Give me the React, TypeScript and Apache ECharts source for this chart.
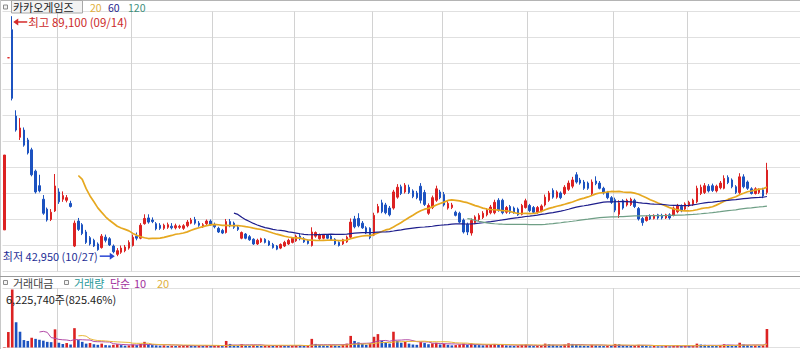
import { useEffect, useRef } from "react";
import * as echarts from "echarts";

// Trading days (month -> days)
const tradingMonths: { ym: string; days: number[] }[] = [
  { ym: "2020-09", days: [10, 11, 14, 15, 16, 17, 18, 21, 22, 23, 24, 25, 28, 29] },
  { ym: "2020-10", days: [5, 6, 7, 8, 12, 13, 14, 15, 16, 19, 20, 21, 22, 23, 26, 27, 28, 29, 30] },
  { ym: "2020-11", days: [2, 3, 4, 5, 6, 9, 10, 11, 12, 13, 16, 17, 18, 19, 20, 23, 24, 25, 26, 27, 30] },
  { ym: "2020-12", days: [1, 2, 3, 4, 7, 8, 9, 10, 11, 14, 15, 16, 17, 18, 21, 22, 23, 24, 28, 29, 30] },
  { ym: "2021-01", days: [4, 5, 6, 7, 8, 11, 12, 13, 14, 15, 18, 19, 20, 21, 22, 25, 26, 27, 28, 29] },
  { ym: "2021-02", days: [1, 2, 3, 4, 5, 8, 9, 10, 15, 16, 17, 18, 19, 22, 23, 24, 25, 26] },
  { ym: "2021-03", days: [2, 3, 4, 5, 8, 9, 10, 11, 12, 15, 16, 17, 18, 19, 22, 23, 24, 25, 26, 29, 30, 31] },
  { ym: "2021-04", days: [1, 2, 5, 6, 7, 8, 9, 12, 13, 14, 15, 16, 19, 20, 21, 22, 23, 26, 27, 28, 29, 30] },
  { ym: "2021-05", days: [3, 4, 6, 7, 10, 11, 12, 13, 14, 17, 18, 20, 21, 24, 25, 26, 27, 28, 31] },
  { ym: "2021-06", days: [1, 2, 3, 4, 7, 8, 9, 10, 11, 14, 15, 16, 17, 18, 21, 22, 23, 24, 25, 28, 29] },
];

const opens = [
  48000, 81100, 86500, 69900, 65800, 67200, 65300, 63400, 59300, 56500, 53900, 52000, 50000, 51650,
  55300, 53900, 53700, 53100, 44900, 49700, 49000, 47600, 46500, 46000, 45300, 44600, 46600, 46300, 44900, 43300, 43700, 44000, 44500,
  45000, 46800, 46400, 49200, 50300, 49900, 49200, 48900, 48300, 48500, 48700, 48400, 48500, 48300, 48800, 49300, 50000, 49300, 48600, 49200, 49700,
  49000, 48300, 47900, 47500, 49600, 49300, 48500, 46400, 47200, 46700, 46200, 45300, 45700, 46200, 45800, 45200, 44900, 44500, 44900, 45300, 45600,
  45900, 46800, 46300, 45900, 45000, 46800, 46300, 46400, 47000, 46800, 46200, 45600, 45300, 45700, 46600, 50100, 50200, 49300, 48400, 48300,
  47000, 51400, 53200, 52800, 52200, 52200, 54300, 56300, 55300, 56200, 55500, 55100, 56400, 55200, 51200, 52300, 53700, 55300,
  54800, 52200, 52300, 51400, 51200, 49900, 49100, 47400, 49400, 50000, 50400, 50900, 51300, 51300, 53700, 53700, 51400, 52500, 52200, 52000, 51000, 52300,
  52700, 52300, 51400, 51700, 52800, 53700, 55600, 54300, 55100, 55000, 55800, 56400, 58600, 57600, 57200, 57000, 55000, 57400, 57000, 56000, 55200, 54200,
  53800, 51000, 53600, 52800, 52900, 53700, 52100, 50200, 49800, 50700, 50200, 50900, 50800, 50300, 50900, 50800, 51500, 52500, 52000,
  52600, 52900, 53400, 55000, 55200, 56400, 56500, 55500, 56100, 56000, 58100, 57600, 56300, 55200, 58200, 57200, 55900, 55000, 55200, 55700, 55200,
];

const highs = [
  62400, 81100, 89100, 71000, 69500, 67700, 65700, 63800, 59600, 58600, 54700, 52300, 52000, 58750,
  56000, 55400, 54700, 53600, 49800, 50300, 49300, 48000, 46800, 46300, 45600, 47200, 47100, 46600, 45200, 44500, 45000, 45100, 46000,
  47100, 47500, 49300, 51000, 51000, 50400, 49500, 49300, 49200, 49400, 49300, 49200, 49000, 49100, 49900, 50300, 50500, 49700, 49300, 50000, 50000,
  49400, 48600, 48200, 50100, 50100, 49600, 48800, 47700, 47400, 47000, 46400, 46300, 46500, 46400, 46000, 45500, 45100, 45400, 45900, 46300, 46600,
  47100, 47200, 46600, 46100, 48500, 47700, 47300, 47200, 47200, 47000, 46400, 45800, 46300, 46900, 50200, 50700, 51200, 49700, 48700, 48500,
  51300, 53000, 53800, 53200, 52600, 55700, 56800, 56700, 57000, 56700, 55800, 55500, 57000, 55700, 53100, 54600, 56500, 55700,
  55300, 53500, 53200, 51700, 51500, 50200, 49400, 50200, 50800, 51200, 51600, 52200, 52800, 53800, 54100, 54000, 52600, 52800, 52500, 52300, 53000, 54000,
  53000, 52600, 52600, 52900, 54800, 55500, 56000, 55600, 55400, 56600, 57500, 58200, 59100, 58000, 57600, 57300, 57700, 58300, 57400, 56300, 55500, 54500,
  54200, 53700, 53900, 54000, 54200, 54000, 52400, 50500, 50800, 51000, 51000, 51100, 51100, 51100, 51200, 52500, 53000, 52900, 53300,
  53600, 54000, 56500, 56700, 57000, 56800, 56900, 56700, 57400, 58500, 58500, 57900, 56600, 58900, 58700, 57500, 56200, 56200, 56000, 56100, 60900,
];

const lows = [
  48000, 81100, 72900, 66900, 65300, 64000, 62500, 58300, 55000, 55200, 50900, 49600, 49700, 51450,
  53000, 53400, 53300, 52300, 44700, 47800, 47000, 45300, 45000, 44700, 44000, 44400, 45600, 44900, 43500, 42950, 43400, 43700, 44200,
  44800, 46000, 46200, 49000, 49200, 49300, 47900, 48000, 48000, 48200, 48100, 48100, 48200, 48000, 48500, 49100, 49000, 48600, 48400, 48900, 48800,
  48300, 47400, 47200, 47300, 48500, 48200, 47800, 46200, 46200, 45900, 45100, 45100, 45500, 45400, 44900, 44400, 44100, 44300, 44700, 45100, 45400,
  45700, 46000, 45500, 45200, 44800, 46500, 46100, 46200, 46200, 45900, 45100, 44800, 45100, 45500, 46300, 48300, 48500, 48200, 47200, 46200,
  46800, 51200, 51200, 51000, 50600, 51900, 54000, 54700, 55000, 54900, 54100, 53900, 53100, 52600, 50900, 52000, 53400, 53900,
  52500, 51900, 52000, 50600, 49300, 47300, 47000, 46900, 49100, 49700, 50100, 50600, 51000, 51000, 51500, 51000, 51100, 51100, 51100, 50700, 50800, 52100,
  51400, 51200, 51100, 51400, 52500, 53400, 54000, 54000, 53900, 54700, 55500, 56000, 56900, 56700, 55700, 55700, 54700, 56600, 55800, 54800, 53900, 53000,
  51400, 50300, 51900, 52500, 52600, 52200, 49800, 48800, 49600, 49900, 50000, 50000, 50000, 50100, 50000, 50600, 51200, 51400, 51800,
  52400, 52600, 53100, 54700, 54900, 55200, 55300, 55200, 55800, 55800, 56800, 56000, 54900, 54900, 56000, 55700, 54800, 54800, 54900, 54100, 54800,
];

const closes = [
  62400, 81100, 73300, 67200, 67600, 64300, 62800, 58600, 55300, 55500, 51200, 49900, 51400, 56450,
  53400, 54600, 54200, 52500, 49300, 48100, 47300, 45600, 45300, 44900, 44200, 46800, 46000, 45100, 43800, 44000, 44500, 44700, 45600,
  46600, 46400, 48900, 50200, 49500, 49600, 48200, 48300, 48900, 49000, 48400, 48800, 48700, 48800, 49500, 49900, 49300, 48900, 49000, 49700, 49000,
  48600, 47600, 47400, 49600, 48800, 48500, 48100, 47500, 46400, 46100, 45300, 46000, 46300, 45600, 45100, 44600, 44300, 45200, 45600, 46000, 46400,
  46800, 46300, 45700, 45400, 47600, 47500, 47000, 47000, 46400, 46100, 45300, 45000, 46100, 46600, 49500, 48600, 48800, 48400, 47400, 46500,
  50800, 52500, 51500, 51300, 50900, 55300, 56200, 55000, 56600, 55200, 54400, 54200, 53700, 52900, 52700, 54200, 55900, 54200,
  52800, 53100, 52800, 50800, 49500, 47600, 47600, 49800, 50500, 50800, 51200, 51800, 52400, 53300, 51800, 51300, 52300, 51400, 51400, 50900, 52700, 53600,
  51700, 51400, 52300, 52600, 54300, 55100, 54300, 55300, 54200, 56200, 57000, 57600, 57200, 57000, 56000, 56000, 57200, 56900, 56000, 55100, 54200, 53300,
  51800, 53200, 52200, 53700, 53900, 52500, 50100, 49400, 50500, 50100, 50800, 50300, 50300, 50900, 50300, 52200, 52600, 51700, 53000,
  53300, 53700, 56000, 56200, 56500, 55500, 55600, 56400, 57000, 57900, 57100, 56300, 55200, 58200, 56300, 56000, 55000, 55900, 55700, 54500, 59500,
];

const volumes = [
  150000, 5200000, 19500000, 8500000, 5300000, 2500000, 2200000, 3300000, 2900000, 2600000, 2300000, 1900000, 1800000, 6100000,
  1600000, 1200000, 1500000, 1000000, 6500000, 2500000, 1900000, 1300000, 1500000, 1100000, 900000, 1300000, 800000, 700000, 900000, 1100000, 800000, 600000, 700000,
  1000000, 800000, 1200000, 1900000, 1000000, 800000, 700000, 600000, 700000, 500000, 600000, 500000, 600000, 700000, 800000, 600000, 500000, 600000, 500000, 700000, 500000,
  600000, 700000, 500000, 2200000, 1200000, 800000, 600000, 1100000, 700000, 600000, 800000, 600000, 500000, 600000, 700000, 500000, 600000, 700000, 600000, 500000, 700000,
  800000, 600000, 500000, 600000, 2900000, 1200000, 900000, 700000, 600000, 800000, 700000, 500000, 900000, 1300000, 3900000, 2200000, 1700000, 1200000, 900000, 1500000,
  3600000, 4500000, 2300000, 1800000, 1300000, 5300000, 2200000, 1600000, 1900000, 1300000, 1000000, 900000, 1800000, 1500000, 1100000, 1400000, 1600000, 1000000,
  1200000, 900000, 700000, 800000, 1000000, 1300000, 900000, 1400000, 1000000, 800000, 700000, 800000, 900000, 1200000, 900000, 1000000, 700000, 600000, 500000, 600000, 900000, 1000000,
  700000, 500000, 600000, 700000, 1300000, 1100000, 900000, 700000, 600000, 1000000, 1400000, 1200000, 1000000, 700000, 600000, 500000, 900000, 700000, 600000, 500000, 600000, 500000,
  1200000, 1100000, 700000, 600000, 500000, 600000, 900000, 800000, 600000, 400000, 500000, 400000, 400000, 500000, 400000, 600000, 700000, 500000, 600000,
  500000, 600000, 1300000, 1000000, 900000, 700000, 600000, 500000, 700000, 1100000, 900000, 700000, 600000, 1600000, 1000000, 800000, 600000, 700000, 600000, 754216, 6225740,
];

const priceMaPeriods = [20, 60, 120];
const priceMaColors = ["#e6a820", "#1e1e8c", "#6f9f86"];
const volumeMaPeriods = [10, 20];
const volumeMaColors = ["#b24aa6", "#e8b838"];

const RED = "#dc2222";
const BLUE = "#1c52c0";
const PAD_CATEGORIES = 8;

function sma(values: number[], n: number): (number | string)[] {
  const out: (number | string)[] = [];
  let sum = 0;
  for (let i = 0; i < values.length; i++) {
    sum += values[i];
    if (i >= n) sum -= values[i - n];
    out.push(i >= n - 1 ? Math.round((sum / n) * 100) / 100 : "-");
  }
  return out;
}

export default function App() {
  const ref = useRef<HTMLDivElement>(null);

  useEffect(() => {
    if (!ref.current) return;
    const chart = echarts.init(ref.current, null, { renderer: "svg" });

    const dates: string[] = [];
    const monthStarts = new Set<number>();
    tradingMonths.forEach((m) => {
      m.days.forEach((d, k) => {
        if (k === 0 && dates.length > 0) monthStarts.add(dates.length);
        dates.push(`${m.ym}-${String(d).padStart(2, "0")}`);
      });
    });
    const categories = dates.concat(
      Array.from({ length: PAD_CATEGORIES }, (_, k) => `pad${k}`)
    );

    const candleData = opens.map((o, i) => [o, closes[i], lows[i], highs[i]]);
    const volData = volumes.map((v, i) => ({
      value: v,
      itemStyle: { color: i === 0 || v > volumes[i - 1] ? RED : BLUE },
    }));

    const splitFn = (index: number) => monthStarts.has(index);
    const font = '"Noto Sans CJK KR", "Noto Sans", sans-serif';

    const xAxisBase = {
      type: "category" as const,
      data: categories,
      boundaryGap: true,
      axisLine: { show: false },
      axisTick: { show: false },
      axisLabel: { show: false },
      splitLine: { show: true, interval: splitFn, lineStyle: { color: "#d2d2d2", width: 1 } },
    };

    const series: any[] = [
      {
        type: "candlestick",
        xAxisIndex: 0,
        yAxisIndex: 0,
        data: candleData,
        barWidth: 2,
        itemStyle: { color: RED, color0: BLUE, borderColor: RED, borderColor0: BLUE, borderWidth: 1 },
        z: 2,
      },
    ];
    priceMaPeriods.forEach((p, k) => {
      series.push({
        type: "line",
        xAxisIndex: 0,
        yAxisIndex: 0,
        data: sma(closes, p),
        showSymbol: false,
        symbol: "none",
        smooth: false,
        lineStyle: { color: priceMaColors[k], width: k === 0 ? 1.7 : 1.2 },
        z: 3,
      });
    });
    series.push({
      type: "bar",
      xAxisIndex: 1,
      yAxisIndex: 1,
      data: volData,
      barWidth: 2.6,
      z: 2,
    });
    volumeMaPeriods.forEach((p, k) => {
      series.push({
        type: "line",
        xAxisIndex: 1,
        yAxisIndex: 1,
        data: sma(volumes, p),
        showSymbol: false,
        symbol: "none",
        lineStyle: { color: volumeMaColors[k], width: 1 },
        z: 3,
      });
    });

    chart.setOption({
      animation: false,
      backgroundColor: "#ffffff",
      grid: [
        { left: 2.5, top: 11.5, width: 798.5, height: 260 },
        { left: 2.5, top: 288, width: 798.5, height: 59.5 },
      ],
      xAxis: [
        { ...xAxisBase, gridIndex: 0 },
        { ...xAxisBase, gridIndex: 1 },
      ],
      yAxis: [
        {
          type: "value",
          gridIndex: 0,
          min: 40000,
          max: 90000,
          interval: 5000,
          axisLine: { show: false },
          axisTick: { show: false },
          axisLabel: { show: false },
          splitLine: { show: true, lineStyle: { color: "#e0e0e0", width: 1 } },
        },
        {
          type: "value",
          gridIndex: 1,
          min: 0,
          max: 20000000,
          interval: 20000000,
          axisLine: { show: false },
          axisTick: { show: false },
          axisLabel: { show: false },
          splitLine: { show: true, lineStyle: { color: "#e0e0e0", width: 1 } },
        },
      ],
      series,
    });

    // annotations: highest / lowest
    let hiIdx = 0;
    let loIdx = 0;
    highs.forEach((h, i) => { if (h > highs[hiIdx]) hiIdx = i; });
    lows.forEach((l, i) => { if (l < lows[loIdx]) loIdx = i; });
    const hiPx = chart.convertToPixel({ xAxisIndex: 0, yAxisIndex: 0 }, [hiIdx, highs[hiIdx]]) as number[];
    const loPx = chart.convertToPixel({ xAxisIndex: 0, yAxisIndex: 0 }, [loIdx, lows[loIdx]]) as number[];
    const fmt = (n: number) => n.toLocaleString("en-US");
    const md = (s: string) => `${s.slice(5, 7)}/${s.slice(8, 10)}`;

    const hiY = hiPx[1] + 5.8;
    const hiTip = hiPx[0] + 1;
    const loY = loPx[1];
    const loTip = loPx[0] - 2.5;

    const last = volumes[volumes.length - 1];
    const prev = volumes[volumes.length - 2];
    const volText = `${fmt(last)}주(${((last / prev) * 100).toFixed(2)}%)`;

    const txt = (text: string, x: number, y: number, fill: string, size = 11.5, align = "left") => ({
      type: "text",
      x,
      y,
      silent: true,
      z: 100,
      style: {
        text,
        fill,
        font: `${size}px ${font}`,
        lineHeight: 11,
        align,
        textAlign: align,
        verticalAlign: "middle",
        textVerticalAlign: "middle",
      },
    });
    const square = (x: number, y: number) => ({
      type: "rect",
      silent: true,
      z: 100,
      shape: { x, y, width: 4, height: 4 },
      style: { fill: "#f4f4f4", stroke: "#8a8a8a", lineWidth: 1 },
    });

    const lowLabel = txt(`최저 ${fmt(lows[loIdx])} (${md(dates[loIdx])})`, loTip - 17, loY, "#1e2e96", 11, "right");

    chart.setOption({
      graphic: [
        // frame lines
        { type: "line", silent: true, z: 50, shape: { x1: 0, y1: 0.5, x2: 800, y2: 0.5 }, style: { stroke: "#b4b4b4", lineWidth: 1 } },
        { type: "line", silent: true, z: 50, shape: { x1: 0.5, y1: 0, x2: 0.5, y2: 349 }, style: { stroke: "#c8c8c8", lineWidth: 1 } },
        { type: "line", silent: true, z: 50, shape: { x1: 0, y1: 276.5, x2: 800, y2: 276.5 }, style: { stroke: "#9a9a9a", lineWidth: 1 } },
        // header
        square(3.5, 5),
        {
          type: "rect",
          silent: true,
          z: 99,
          shape: { x: 11.5, y: 0.5, width: 71, height: 12.5 },
          style: { fill: "#f3f3f3", stroke: "#a8a8a8", lineWidth: 1 },
        },
        txt("카카오게임즈", 13, 7.2, "#222222", 11),
        txt(String(priceMaPeriods[0]), 90, 7, "#e0b040", 10.5),
        txt(String(priceMaPeriods[1]), 108, 7, "#1e1e8c", 10.5),
        txt(String(priceMaPeriods[2]), 128, 7, "#3f8f7c", 10.5),
        // highest
        {
          type: "polygon",
          silent: true,
          z: 100,
          shape: { points: [[hiTip, hiY], [hiTip + 5, hiY - 3.5], [hiTip + 5, hiY + 3.5]] },
          style: { fill: "#d42a2a" },
        },
        {
          type: "line",
          silent: true,
          z: 100,
          shape: { x1: hiTip + 4, y1: hiY, x2: hiTip + 14, y2: hiY },
          style: { stroke: "#d42a2a", lineWidth: 1.5 },
        },
        txt(`최고 ${fmt(highs[hiIdx])} (${md(dates[hiIdx])})`, hiTip + 15, hiY, "#cc2a2a", 11.5),
        // lowest
        {
          type: "polygon",
          silent: true,
          z: 100,
          shape: { points: [[loTip, loY], [loTip - 5, loY - 3.5], [loTip - 5, loY + 3.5]] },
          style: { fill: "#2a46d4" },
        },
        {
          type: "line",
          silent: true,
          z: 100,
          shape: { x1: loTip - 15, y1: loY, x2: loTip - 4, y2: loY },
          style: { stroke: "#2a46d4", lineWidth: 1.5 },
        },
        lowLabel,
        // volume legend
        square(3.5, 280.5),
        txt("거래대금", 13, 282.5, "#444444", 11),
        square(64.5, 280.5),
        txt("거래량", 74, 282.5, "#2a9a9a", 11),
        txt("단순", 110, 282.5, "#a2309c", 11),
        txt(String(volumeMaPeriods[0]), 134, 282.5, "#a2309c", 11),
        txt(String(volumeMaPeriods[1]), 157, 282.5, "#e0b040", 11),
        txt(volText, 6, 298.5, "#222222", 11),
      ],
    });

    return () => chart.dispose();
  }, []);

  return (
    <div
      ref={ref}
      style={{ position: "fixed", left: 0, top: 0, width: 800, height: 349, background: "#ffffff" }}
    />
  );
}
